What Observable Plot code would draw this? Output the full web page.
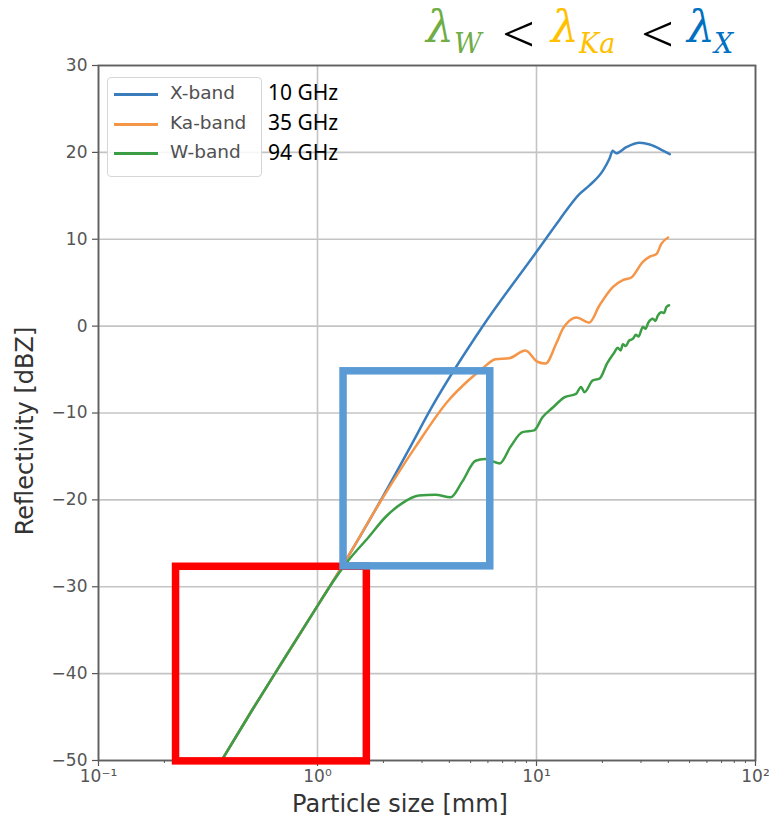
<!DOCTYPE html>
<html>
<head>
<meta charset="utf-8">
<script src="https://cdn.jsdelivr.net/npm/d3@7"></script>
<script src="https://cdn.jsdelivr.net/npm/@observablehq/plot@0.6"></script>
<style>
  html, body { margin: 0; padding: 0; background: #fff; }
  #wrap { position: relative; width: 769px; height: 819px; overflow: hidden; }
  .tp { position: absolute; white-space: nowrap; }
  .lam { font-family: "DejaVu Serif", serif; font-style: italic; font-size: 44px; line-height: 44px; }
  .sb { font-family: "DejaVu Serif", serif; font-style: italic; font-size: 27px; line-height: 27px; }
  .lt { font-family: "Liberation Serif", serif; font-size: 56px; line-height: 56px; color: #000; transform: scale(1.04, 0.9); transform-origin: 0 60%; }
  #legend { position: absolute; left: 107px; top: 77px; width: 155px; height: 100px; border: 1px solid #d6d6d6; border-radius: 4px; background: rgba(255,255,255,0.85); box-sizing: border-box; }
  .row { position: absolute; left: 0; height: 22px; }
  .row .sw { position: absolute; left: 6px; top: 10px; width: 44px; height: 2.5px; }
  .row .lb { position: absolute; left: 62px; top: -1px; font-family: "DejaVu Sans", sans-serif; font-size: 18.5px; color: #505050; white-space: nowrap; }
  .ghz { position: absolute; left: 268px; font-family: "Noto Sans", sans-serif; font-size: 21px; color: #000; white-space: nowrap; }
</style>
</head>
<body>
<div id="wrap"></div>
<script>
// ---- data ----
const bandNames = ["X-band", "Ka-band", "W-band"];
const bandFreqs = ["10 GHz", "35 GHz", "94 GHz"];
const bandColors = ["#3a7dbd", "#f59548", "#3c9e44"];

const xTicks = [0.1, 1, 10, 100];
const xTickLabels = ["10⁻¹", "10⁰", "10¹", "10²"];
const xMinorTicks = [0.2,0.3,0.4,0.5,0.6,0.7,0.8,0.9,2,3,4,5,6,7,8,9,20,30,40,50,60,70,80,90];
const yTicks = [-50, -40, -30, -20, -10, 0, 10, 20, 30];

// X-band (10 GHz)
const xbandSize = [0.365,0.5,0.7,1,1.3,1.97,2.6,3.33,5.65,10.1,12.7,15.7,17.45,20.1,21.55,22.3,23.1,25.7,29.6,32.9,37.2,40.6];
const xbandZ    = [-50,-44.3,-38.4,-32.2,-27.6,-19.8,-14.3,-9.3,-0.1,8.7,12.2,15.2,16.2,17.9,19.3,20.2,19.9,20.6,21.1,20.9,20.3,19.8];

// Ka-band (35 GHz)
const kabandSize = [0.365,0.5,0.7,1,1.3,1.97,2.8,3.98,4.91,5.65,6.5,7.5,8.9,10.1,11.0,12.3,13.2,14.1,15.2,17.4,19.4,22.3,24.8,27.1,30.6,32.9,35.3,37.2,39.9];
const kabandZ    = [-50,-44.3,-38.4,-32.2,-27.6,-19.9,-13.9,-8.5,-6.2,-4.9,-3.8,-3.7,-2.8,-4.1,-4.3,-2.0,-0.3,0.6,1.0,0.4,2.4,4.5,5.3,5.6,7.4,8.0,8.3,9.5,10.2];

// W-band (94 GHz)
const wbandSize = [0.365,0.5,0.7,1,1.2,1.38,1.71,2.04,2.43,2.9,3.45,4.05,4.58,5.27,5.8,6.8,7.6,8.63,9.75,10.65,11.84,13.4,15.15,15.97,16.55,18.07,19.4,21.0,22.7,23.5,24.2,24.8,25.6,26.4,27.6,28.4,29.2,30.6,31.5,32.4,34.0,34.9,35.8,37.2,38.2,39.2,40.3];
const wbandZ    = [-50,-44.3,-38.4,-32.2,-29.1,-27.0,-24.3,-22.0,-20.4,-19.5,-19.4,-19.7,-17.9,-15.5,-15.3,-15.8,-13.9,-12.2,-12.0,-10.5,-9.4,-8.2,-7.8,-7.0,-7.6,-6.25,-6.05,-4.3,-3.0,-2.5,-2.8,-2.1,-2.3,-1.7,-1.45,-1.0,-1.2,-0.1,-0.3,0.4,0.85,0.6,1.2,1.6,1.5,2.2,2.4];

// annotation boxes (data coordinates)
const redBoxSize = [0.226, 1.68];
const redBoxZ = [-50.1, -27.7];
const blueBoxSize = [1.315, 6.15];
const blueBoxZ = [-27.65, -5.2];

const xLabel = "Particle size [mm]";
const yLabel = "Reflectivity [dBZ]";

// ---- build ----
const toRows = (sizes, zs) => sizes.map((s, i) => ({size: s, z: zs[i]}));
const series = [toRows(xbandSize, xbandZ), toRows(kabandSize, kabandZ), toRows(wbandSize, wbandZ)];

const gridStyle = {stroke: "#c4c4c4", strokeOpacity: 1, strokeWidth: 1.6};

const chart = Plot.plot({
  width: 769,
  height: 819,
  marginLeft: 98,
  marginRight: 14,
  marginTop: 65,
  marginBottom: 59,
  x: {type: "log", domain: [0.1, 100]},
  y: {domain: [-50, 30]},
  style: {fontFamily: "DejaVu Sans, sans-serif", fontSize: "17px", color: "#555", background: "transparent"},
  marks: [
    Plot.gridX(xTicks, gridStyle),
    Plot.gridY(yTicks, gridStyle),
    Plot.axisX(xMinorTicks, {tickSize: 3, tickFormat: () => "", label: null, stroke: "#555"}),
    Plot.axisX(xTicks, {tickSize: 6, tickPadding: 3, label: null, stroke: "#555", strokeWidth: 1.2,
      tickFormat: d => xTickLabels[xTicks.findIndex(t => Math.abs(t - d) < 1e-9)]}),
    Plot.axisY(yTicks, {tickSize: 6, tickPadding: 5, label: null, stroke: "#555", strokeWidth: 1.2}),
    ...series.map((rows, i) => Plot.line(rows, {x: "size", y: "z", stroke: bandColors[i], strokeWidth: 2.5, curve: "monotone-x"})),
    Plot.frame({stroke: "#606060", strokeWidth: 1.8}),
    Plot.rect([0], {x1: () => redBoxSize[0], x2: () => redBoxSize[1], y1: () => redBoxZ[0], y2: () => redBoxZ[1], fill: "none", stroke: "#ff0000", strokeWidth: 7.5}),
    Plot.rect([0], {x1: () => blueBoxSize[0], x2: () => blueBoxSize[1], y1: () => blueBoxZ[0], y2: () => blueBoxZ[1], fill: "none", stroke: "#5b9bd5", strokeWidth: 7.5}),
    Plot.text([xLabel], {text: d => d, frameAnchor: "bottom", textAnchor: "middle", lineAnchor: "middle", dx: -27, dy: 44, fontSize: 24, fill: "#333"}),
    Plot.text([yLabel], {text: d => d, frameAnchor: "left", textAnchor: "middle", lineAnchor: "middle", dx: -73, dy: 18, rotate: -90, fontSize: 24, fill: "#333"})
  ]
});

const wrap = document.getElementById("wrap");
wrap.appendChild(chart);

// title pieces: [text, class, color, left, top]
const titleParts = [
  ["λ", "lam", "#70ad47", 426, 5],
  ["W", "sb", "#70ad47", 454, 30],
  ["<", "lt", "#000", 502, 5],
  ["λ", "lam", "#ffc000", 551, 5],
  ["Ka", "sb", "#ffc000", 579, 30],
  ["<", "lt", "#000", 641, 5],
  ["λ", "lam", "#0070c0", 687, 5],
  ["X", "sb", "#0070c0", 714, 30]
];
titleParts.forEach(([t, cls, col, l, tp]) => {
  const s = document.createElement("span");
  s.className = "tp " + cls;
  s.style.color = col;
  s.style.left = l + "px";
  s.style.top = tp + "px";
  s.textContent = t;
  wrap.appendChild(s);
});

// legend
const legend = document.createElement("div");
legend.id = "legend";
const rowTops = [5, 35, 64];
bandNames.forEach((name, i) => {
  const r = document.createElement("div");
  r.className = "row";
  r.style.top = rowTops[i] + "px";
  r.innerHTML = `<div class="sw" style="background:${bandColors[i]}"></div><div class="lb">${name}</div>`;
  legend.appendChild(r);
});
wrap.appendChild(legend);

const ghzTops = [78, 108, 138];
bandFreqs.forEach((f, i) => {
  const g = document.createElement("div");
  g.className = "ghz";
  g.style.top = ghzTops[i] + "px";
  g.textContent = f;
  wrap.appendChild(g);
});
</script>
</body>
</html>
